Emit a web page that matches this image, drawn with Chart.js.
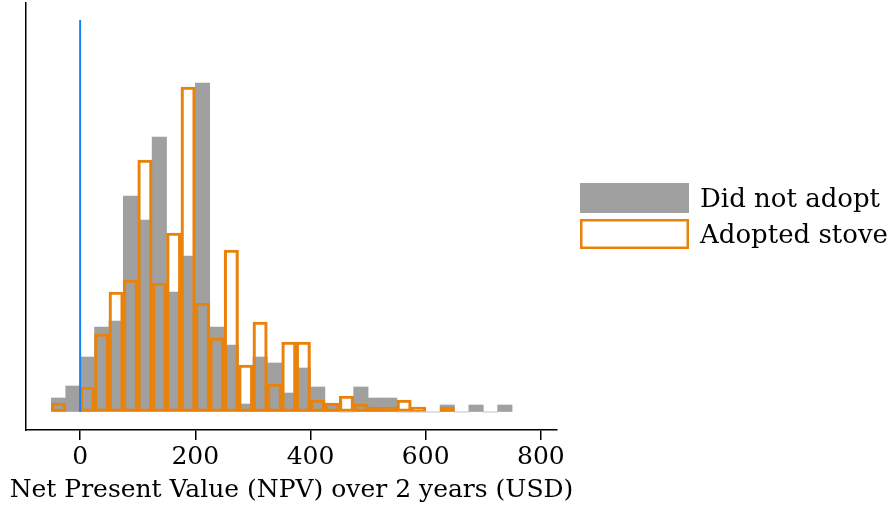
<!DOCTYPE html>
<html>
<head>
<meta charset="utf-8">
<script src="https://cdn.jsdelivr.net/npm/chart.js@4/dist/chart.umd.min.js"></script>
<style>
  html, body { margin: 0; padding: 0; background: #fff; }
  #wrap { width: 895px; height: 508px; }
</style>
</head>
<body>
<div id="wrap"><canvas id="npvChart" width="895" height="508"></canvas></div>
<script>
// histogram bins of 25 USD, left edges
const binStarts = [-50, -25, 0, 25, 50, 75, 100, 125, 150, 175, 200, 225, 250, 275, 300, 325,
  350, 375, 400, 425, 450, 475, 500, 525, 550, 575, 600, 625, 650, 675, 700, 725];
const binWidth = 25;

// density (arbitrary units)
const notAdopted = [1.4, 2.6, 5.5, 8.5, 9.1, 21.6, 19.2, 27.5, 12.0, 15.6, 32.9, 8.5, 6.7, 0.8, 5.5, 4.9,
  1.9, 4.4, 2.5, 0.7, 0, 2.5, 1.4, 1.4, 0, 0, 0, 0.7, 0, 0.7, 0, 0.7];
const adopted = [0.9, null, 2.5, 7.8, 12.0, 13.2, 25.2, 12.9, 17.9, 32.5, 10.9, 7.4, 16.2, 4.7, 9.0, 2.8,
  7.0, 7.0, 1.2, 0.9, 1.6, 0.8, 0.5, 0.5, 1.2, 0.5, null, 0.5, null, null, null, null];

const xTicks = [0, 200, 400, 600, 800];
const zeroLineX = 0;
const zeroLineTop = 39.2;

const seriesLabels = ["Did not adopt", "Adopted stove"];
const xTitle = "Net Present Value (NPV) over 2 years (USD)";

const GRAY = "#a0a0a0";
const ORANGE = "#e8820a";
const BLUE = "#1782f2";
const FONT = "'DejaVu Serif', 'Liberation Serif', serif";

const toPoints = (vals) => binStarts.map((s, i) => ({ x: s + binWidth / 2, y: vals[i] }));

// legend + axis title drawn by hand: the title is wider than the axis and
// the built-in one gets squeezed, the legend must not shrink the plot
const sideLegend = {
  id: "sideLegend",
  afterDraw(chart) {
    const ctx = chart.ctx;
    const x0 = 580, w = 109, h = 30;
    const rows = [
      { y: 183, ds: chart.data.datasets[2] },
      { y: 219, ds: chart.data.datasets[1] },
    ];
    ctx.save();
    ctx.font = "26px " + FONT;
    ctx.textBaseline = "alphabetic";
    rows.forEach((r) => {
      if (r.ds.borderWidth) {
        ctx.strokeStyle = r.ds.borderColor;
        ctx.lineWidth = 2.5;
        ctx.strokeRect(x0 + 1.25, r.y + 1.25, w - 2.5, h - 2.5);
      } else {
        ctx.fillStyle = r.ds.backgroundColor;
        ctx.fillRect(x0, r.y, w, h);
      }
      ctx.fillStyle = "#000";
      ctx.fillText(r.ds.label, 700, r.y + 24);
    });

    const xs = chart.scales.x;
    ctx.font = "25px " + FONT;
    ctx.textAlign = "center";
    ctx.fillText(xTitle, (xs.left + xs.right) / 2, xs.top + 67);
    ctx.restore();
  },
};

new Chart(document.getElementById("npvChart").getContext("2d"), {
  type: "bar",
  data: {
    datasets: [
      {
        type: "line",
        label: "zero",
        data: [{ x: zeroLineX, y: 0 }, { x: zeroLineX, y: zeroLineTop }],
        borderColor: BLUE,
        borderWidth: 2,
        pointRadius: 0,
        order: 0,
      },
      {
        label: seriesLabels[1],
        data: toPoints(adopted),
        backgroundColor: "rgba(0,0,0,0)",
        borderColor: ORANGE,
        borderWidth: 2.5,
        borderSkipped: false,
        grouped: false,
        barPercentage: 1,
        categoryPercentage: 1,
        order: 1,
      },
      {
        label: seriesLabels[0],
        data: toPoints(notAdopted),
        backgroundColor: GRAY,
        borderWidth: 0,
        grouped: false,
        barPercentage: 1,
        categoryPercentage: 1,
        order: 2,
      },
    ],
  },
  options: {
    responsive: false,
    animation: false,
    layout: { padding: { left: 26, top: 3, right: 338, bottom: 0 } },
    plugins: {
      legend: { display: false },
      tooltip: { enabled: false },
    },
    scales: {
      x: {
        type: "linear",
        min: -94,
        max: 828,
        offset: false,
        afterBuildTicks: (axis) => {
          axis.ticks = xTicks.map((v) => ({ value: v }));
        },
        afterFit: (axis) => {
          axis.height = 78;
        },
        grid: {
          display: true,
          offset: false,
          drawOnChartArea: false,
          drawTicks: true,
          tickLength: 10,
          color: "#000",
          lineWidth: 1.5,
        },
        border: { display: true, color: "#000", width: 1.5 },
        ticks: {
          color: "#000",
          padding: 5,
          maxRotation: 0,
          font: { family: FONT, size: 25, lineHeight: 1 },
        },
      },
      y: {
        min: -1.8,
        max: 40.9,
        grid: { display: true, drawOnChartArea: false, drawTicks: false },
        border: { display: true, color: "#000", width: 1.5 },
        ticks: { display: false },
      },
    },
  },
  plugins: [sideLegend],
});
</script>
</body>
</html>
